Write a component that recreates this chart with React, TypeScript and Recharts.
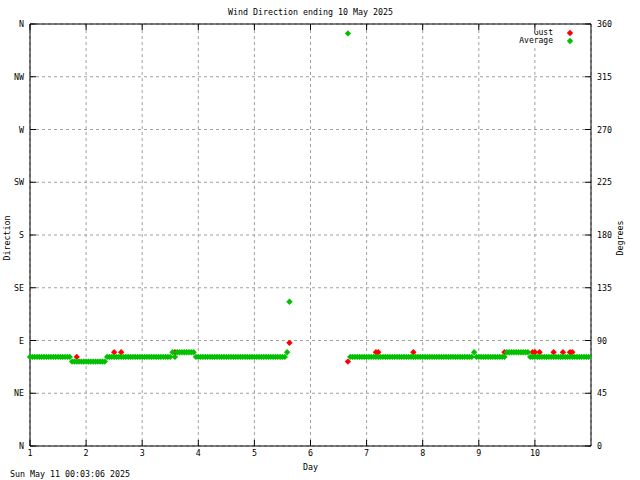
import {
  ScatterChart,
  Scatter,
  XAxis,
  YAxis,
  CartesianGrid,
  ReferenceLine,
  Legend,
} from 'recharts';

const FONT = '"DejaVu Sans Mono", monospace';
const FONT_SIZE = 8.3;
const PLOT_TOP = 24;

const dayTicks = [1, 2, 3, 4, 5, 6, 7, 8, 9, 10];
const degreeTicks = [0, 45, 90, 135, 180, 225, 270, 315, 360];
const compassLabels = ['N', 'NE', 'E', 'SE', 'S', 'SW', 'W', 'NW', 'N'];

// hourly average direction (deg), one row per day, null = no reading
const averageDeg = [
  76, 76, 76, 76, 76, 76, 76, 76, 76, 76, 76, 76, 76, 76, 76, 76, 76, 76, 72, 72, 72, 72, 72, 72,
  72, 72, 72, 72, 72, 72, 72, 72, 72, 76, 76, 76, 76, 76, 76, 76, 76, 76, 76, 76, 76, 76, 76, 76,
  76, 76, 76, 76, 76, 76, 76, 76, 76, 76, 76, 76, 76, 80, 76, 80, 80, 80, 80, 80, 80, 80, 80, 76,
  76, 76, 76, 76, 76, 76, 76, 76, 76, 76, 76, 76, 76, 76, 76, 76, 76, 76, 76, 76, 76, 76, 76, 76,
  76, 76, 76, 76, 76, 76, 76, 76, 76, 76, 76, 76, 76, 76, 80, 123, null, null, null, null, null, null, null, null,
  null, null, null, null, null, null, null, null, null, null, null, null, null, null, null, null, 352, 76, 76, 76, 76, 76, 76, 76,
  76, 76, 76, 76, 76, 76, 76, 76, 76, 76, 76, 76, 76, 76, 76, 76, 76, 76, 76, 76, 76, 76, 76, 76,
  76, 76, 76, 76, 76, 76, 76, 76, 76, 76, 76, 76, 76, 76, 76, 76, 76, 76, 76, 76, 76, 76, 80, 76,
  76, 76, 76, 76, 76, 76, 76, 76, 76, 76, 76, 76, 80, 80, 80, 80, 80, 80, 80, 80, 80, 80, 76, 76,
  76, 76, 76, 76, 76, 76, 76, 76, 76, 76, 76, 76, 76, 76, 76, 76, 76, 76, 76, 76, 76, 76, 76, 76,
];

// gust readings that differ from the average (hour index since start)
const gustHours = [20, 36, 39, 62, 111, 136, 148, 149, 164, 203, 215, 216, 218, 224, 228, 231, 232];
const gustDeg = [76, 80, 80, 80, 88, 72, 80, 80, 80, 80, 80, 80, 80, 80, 80, 80, 80];

const averageData = averageDeg
  .map((deg, i) => ({ day: 1 + i / 24, deg }))
  .filter((d) => d.deg !== null);

const gustData = gustHours.map((h, i) => ({ day: 1 + h / 24, deg: gustDeg[i] }));

const textStyle = { fontFamily: FONT, fontSize: FONT_SIZE, fill: '#000' };

function Diamond({ cx, cy, fill }: any) {
  const r = 3.2;
  return <path d={`M${cx},${cy - r}L${cx + r},${cy}L${cx},${cy + r}L${cx - r},${cy}Z`} fill={fill} />;
}

function NoShape() {
  return <g />;
}

function LeftTick({ x, y, payload }: any) {
  const idx = degreeTicks.indexOf(payload.value);
  return (
    <g>
      <line x1={x + 6} x2={x + 12} y1={y} y2={y} stroke="#000" />
      <text x={x} y={y} textAnchor="end" dominantBaseline="central" style={textStyle}>
        {compassLabels[idx]}
      </text>
    </g>
  );
}

function RightTick({ x, y, payload }: any) {
  return (
    <g>
      <line x1={x - 6} x2={x - 12} y1={y} y2={y} stroke="#000" />
      <text x={x} y={y} textAnchor="start" dominantBaseline="central" style={textStyle}>
        {payload.value}
      </text>
    </g>
  );
}

function BottomTick({ x, y, payload }: any) {
  return (
    <g>
      <line x1={x} x2={x} y1={y - 7} y2={y - 13} stroke="#000" />
      <line x1={x} x2={x} y1={PLOT_TOP} y2={PLOT_TOP + 6} stroke="#000" />
      <text x={x} y={y} textAnchor="middle" dominantBaseline="central" style={textStyle}>
        {payload.value}
      </text>
    </g>
  );
}

function SideLabel({ viewBox, value, dx }: any) {
  const cx = viewBox.x + dx;
  const cy = viewBox.y + viewBox.height / 2 + 3;
  return (
    <text
      x={cx}
      y={cy}
      textAnchor="middle"
      dominantBaseline="central"
      transform={`rotate(-90 ${cx} ${cy})`}
      style={textStyle}
    >
      {value}
    </text>
  );
}

function KeyBox() {
  const rows = [
    { name: 'Gust', color: '#ff0000' },
    { name: 'Average', color: '#00c000' },
  ];
  return (
    <div style={{ background: '#fff', paddingBottom: 3 }}>
      {rows.map((r) => (
        <div key={r.name} style={{ display: 'flex', height: 8, alignItems: 'center', overflow: 'hidden' }}>
          <span
            style={{
              width: 53,
              textAlign: 'right',
              fontFamily: FONT,
              fontSize: 8,
              lineHeight: '8px',
              color: '#000',
            }}
          >
            {r.name}
          </span>
          <svg width={34} height={8}>
            <Diamond cx={17} cy={4} fill={r.color} />
          </svg>
        </div>
      ))}
    </div>
  );
}

export default function App() {
  return (
    <div style={{ position: 'absolute', left: 0, top: 0, width: 640, height: 480, background: '#fff' }}>
      <div
        style={{
          position: 'absolute',
          left: 0,
          top: 7,
          width: 621,
          textAlign: 'center',
          fontFamily: FONT,
          fontSize: FONT_SIZE,
          lineHeight: '10px',
        }}
      >
        Wind Direction ending 10 May 2025
      </div>
      <ScatterChart width={640} height={480} margin={{ top: PLOT_TOP, right: 0, bottom: 0, left: 0 }}>
        <CartesianGrid stroke="#a0a0a0" strokeDasharray="3 3" yAxisId="left" />
        <XAxis
          dataKey="day"
          type="number"
          domain={[1, 11]}
          ticks={dayTicks}
          height={34}
          tickSize={0}
          tickMargin={7}
          tick={<BottomTick />}
          axisLine={{ stroke: '#000' }}
          tickLine={false}
          label={{ value: 'Day', position: 'insideBottom', offset: 10, style: textStyle }}
        />
        <YAxis
          yAxisId="left"
          dataKey="deg"
          type="number"
          domain={[0, 360]}
          ticks={degreeTicks}
          width={30}
          tickSize={0}
          tickMargin={6}
          tick={<LeftTick />}
          tickLine={false}
          axisLine={{ stroke: '#000' }}
          label={<SideLabel value="Direction" dx={7} />}
        />
        <YAxis
          yAxisId="right"
          dataKey="deg"
          orientation="right"
          type="number"
          domain={[0, 360]}
          ticks={degreeTicks}
          width={49}
          tickSize={0}
          tickMargin={6}
          tick={<RightTick />}
          tickLine={false}
          axisLine={{ stroke: '#000' }}
          label={<SideLabel value="Degrees" dx={29} />}
        />
        <ReferenceLine yAxisId="left" y={360} stroke="#000" />
        <Legend
          layout="horizontal"
          verticalAlign="middle"
          align="center"
          wrapperStyle={{ left: 500, top: 29, width: 88 }}
          content={<KeyBox />}
        />
        <Scatter
          name="Gust"
          yAxisId="left"
          data={gustData}
          fill="#ff0000"
          shape={<Diamond />}
          isAnimationActive={false}
        />
        <Scatter
          name="Average"
          yAxisId="left"
          data={averageData}
          fill="#00c000"
          shape={<Diamond />}
          isAnimationActive={false}
        />
        <Scatter
          name="Degrees"
          yAxisId="right"
          data={averageData}
          fill="none"
          shape={<NoShape />}
          legendType="none"
          isAnimationActive={false}
        />
      </ScatterChart>
      <div
        style={{
          position: 'absolute',
          left: 10,
          top: 469,
          fontFamily: FONT,
          fontSize: FONT_SIZE,
          lineHeight: '10px',
        }}
      >
        Sun May 11 00:03:06 2025
      </div>
    </div>
  );
}
